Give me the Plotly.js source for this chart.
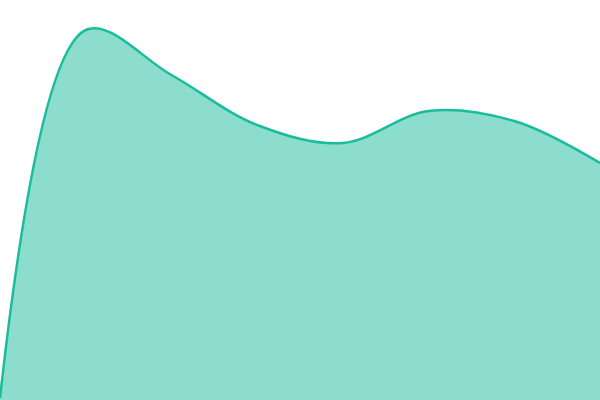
<!DOCTYPE html>
<html>
<head>
<meta charset="utf-8">
<script src="https://cdn.plot.ly/plotly-3.0.1.min.js"></script>
<style>
  html, body { margin: 0; padding: 0; background: #fff; }
  #chart { width: 600px; height: 400px; }
</style>
</head>
<body>
<div id="chart"></div>
<script>
// points (y in chart units, 0..400)
const xs = [0, 1, 2, 3, 4, 5, 6, 7];
const ys = [2, 370, 325, 275, 257, 289, 279, 237];

const trace = {
    x: xs, y: ys,
    type: 'scatter',
    mode: 'lines',
    fill: 'tozeroy',
    fillcolor: 'rgba(26,188,156,0.5)',
    line: { color: '#1abc9c', width: 2.5, shape: 'spline', smoothing: 1 },
    hoverinfo: 'skip'
};

const layout = {
    width: 600, height: 400,
    margin: { l: 0, r: 0, t: 0, b: 0, pad: 0 },
    paper_bgcolor: '#fff', plot_bgcolor: '#fff',
    showlegend: false,
    xaxis: { range: [0, 7], visible: false, fixedrange: true },
    yaxis: { range: [0, 400], visible: false, fixedrange: true }
};

Plotly.newPlot('chart', [trace], layout, { displayModeBar: false, staticPlot: true });
</script>
</body>
</html>
